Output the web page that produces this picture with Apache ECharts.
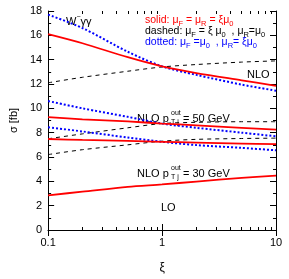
<!DOCTYPE html>
<html><head><meta charset="utf-8">
<script src="https://cdn.jsdelivr.net/npm/echarts@6/dist/echarts.min.js"></script>
<style>html,body{margin:0;padding:0;background:#fff}#c{width:289px;height:279px}</style>
</head><body><div id="c"></div>
<script>
const xi = [0.1, 0.2, 0.5, 1, 2, 5, 10];
const nloSolid   = [16.1, 15.35, 14.2, 13.45, 12.9, 12.3, 11.85];
const nloDashed  = [12.1, 12.55, 13.05, 13.4, 13.6, 13.8, 13.9];
const nloDotted  = [17.7, 16.6, 14.65, 13.45, 12.75, 11.95, 11.45];
const n50Solid   = [9.28, 9.1, 8.92, 8.75, 8.6, 8.4, 8.25];
const n50Dashed  = [7.5, 7.9, 8.4, 8.75, 8.85, 8.9, 8.9];
const n50Dotted  = [10.6, 10.0, 9.3, 8.75, 8.4, 8.0, 7.7];
const n30Solid   = [7.48, 7.4, 7.32, 7.25, 7.18, 7.1, 7.05];
const n30Dashed  = [6.2, 6.6, 7.0, 7.3, 7.45, 7.52, 7.55];
const n30Dotted  = [8.45, 8.1, 7.6, 7.25, 6.98, 6.75, 6.55];
const loSolid    = [2.85, 3.15, 3.55, 3.75, 3.98, 4.28, 4.47];
const xMajor = [0.1, 1, 10];
const xMinor = [0.2,0.3,0.4,0.5,0.6,0.7,0.8,0.9,2,3,4,5,6,7,8,9];

const FONT = 'Liberation Sans';
const chart = echarts.init(document.getElementById('c'), null, {renderer:'canvas'});
const pair = a => xi.map((x,i)=>[x,a[i]]);
const RED='#ff0000', BLUE='#0000ff', BLK='#000000';
function ser(data, color, type, width){
  return {type:'line', data:pair(data), showSymbol:false, smooth:0.3, silent:true,
    lineStyle:{color, width, type}, z: type==='solid'?3:2};
}
const solid = d=>ser(d,RED,'solid',1.8);
const dashed = d=>ser(d,BLK,[4,4],1);
const dotted = d=>ser(d,BLUE,[2,2],2);

function legendLine(x,y,color,text){
  return {type:'text', left:x, top:y, style:{text, rich:{
    m:{fontFamily:FONT, fontSize:10.5, fill:color, verticalAlign:'top', lineHeight:13},
    s:{fontFamily:FONT, fontSize:7.5, fill:color, verticalAlign:'bottom', lineHeight:13}}}};
}
function ptLabel(x,y,v){
  return {type:'group', left:x, top:y, children:[
    {type:'text', x:0, y:2, style:{text:'NLO p', fontFamily:FONT, fontSize:11, fill:'#000'}},
    {type:'text', x:34, y:-1, style:{text:'out', fontFamily:FONT, fontSize:7, fill:'#000'}},
    {type:'text', x:34, y:8, style:{text:'T j', fontFamily:FONT, fontSize:7, fill:'#000'}},
    {type:'text', x:46, y:2, style:{text:'= '+v+' GeV', fontFamily:FONT, fontSize:11, fill:'#000'}}
  ]};
}

const axLine = {show:true, lineStyle:{color:'#000', width:1}};
const baseX = {type:'log', logBase:10, min:0.1, max:10, splitLine:{show:false}};
chart.setOption({
  animation:false,
  grid:{left:48, right:13, top:11, bottom:32},
  xAxis:[
    Object.assign({}, baseX, {position:'bottom', axisLine:axLine,
      axisTick:{inside:true, length:6, lineStyle:{color:'#000'}},
      axisLabel:{color:'#000', fontFamily:FONT, fontSize:11, margin:7,
        formatter:v=> (Math.abs(v-0.1)<1e-9?'0.1':String(Math.round(v)))},
      name:'ξ', nameLocation:'middle', nameGap:32,
      nameTextStyle:{color:'#000', fontFamily:FONT, fontSize:12}}),
    Object.assign({}, baseX, {position:'top', axisLine:axLine,
      axisTick:{inside:true, length:6, lineStyle:{color:'#000'}},
      axisLabel:{show:false}}),
    Object.assign({}, baseX, {position:'bottom', axisLine:{show:false},
      axisTick:{inside:true, length:3, customValues:xMinor, lineStyle:{color:'#000'}},
      axisLabel:{show:false}}),
    Object.assign({}, baseX, {position:'top', axisLine:{show:false},
      axisTick:{inside:true, length:3, customValues:xMinor, lineStyle:{color:'#000'}},
      axisLabel:{show:false}})
  ],
  yAxis:[
    {type:'value', min:0, max:18, interval:2, position:'left', axisLine:axLine,
     splitLine:{show:false},
     axisTick:{inside:true, length:6, lineStyle:{color:'#000'}},
     minorTick:{show:true, splitNumber:2, length:3, lineStyle:{color:'#000'}},
     axisLabel:{color:'#000', fontFamily:FONT, fontSize:11, margin:6},
     name:'σ [fb]', nameLocation:'middle', nameGap:21, nameRotate:90,
     nameTextStyle:{color:'#000', fontFamily:FONT, fontSize:11}},
    {type:'value', min:0, max:18, interval:2, position:'right', axisLine:axLine,
     splitLine:{show:false},
     axisTick:{inside:true, length:6, lineStyle:{color:'#000'}},
     minorTick:{show:true, splitNumber:2, length:3, lineStyle:{color:'#000'}},
     axisLabel:{show:false}}
  ],
  series:[
    dashed(nloDashed), dotted(nloDotted), solid(nloSolid),
    dashed(n50Dashed), dotted(n50Dotted), solid(n50Solid),
    dashed(n30Dashed), dotted(n30Dotted), solid(n30Solid),
    solid(loSolid)
  ],
  graphic:[
    {type:'text', left:66, top:14, style:{text:'{m|W}{s|−}{m|γγ}', rich:{
      m:{fontFamily:FONT, fontSize:11, fill:'#000', verticalAlign:'bottom', lineHeight:13},
      s:{fontFamily:FONT, fontSize:7, fill:'#000', verticalAlign:'top', lineHeight:13}}}},
    legendLine(145, 15, RED, '{m|solid: μ}{s|F}{m| = μ}{s|R}{m| = ξμ}{s|0}'),
    legendLine(145, 26, BLK, '{m|dashed: μ}{s|F}{m| = ξ μ}{s|0}{m|  , μ}{s|R}{m|=μ}{s|0}'),
    legendLine(145, 37, BLUE, '{m|dotted: μ}{s|F}{m| =μ}{s|0}{m|  , μ}{s|R}{m|= ξμ}{s|0}'),
    {type:'text', left:247, top:69, style:{text:'NLO', fontFamily:FONT, fontSize:11, fill:'#000'}},
    ptLabel(137, 110, '50'),
    ptLabel(137, 165, '30'),
    {type:'text', left:161, top:202, style:{text:'LO', fontFamily:FONT, fontSize:11, fill:'#000'}}
  ]
});
</script></body></html>
